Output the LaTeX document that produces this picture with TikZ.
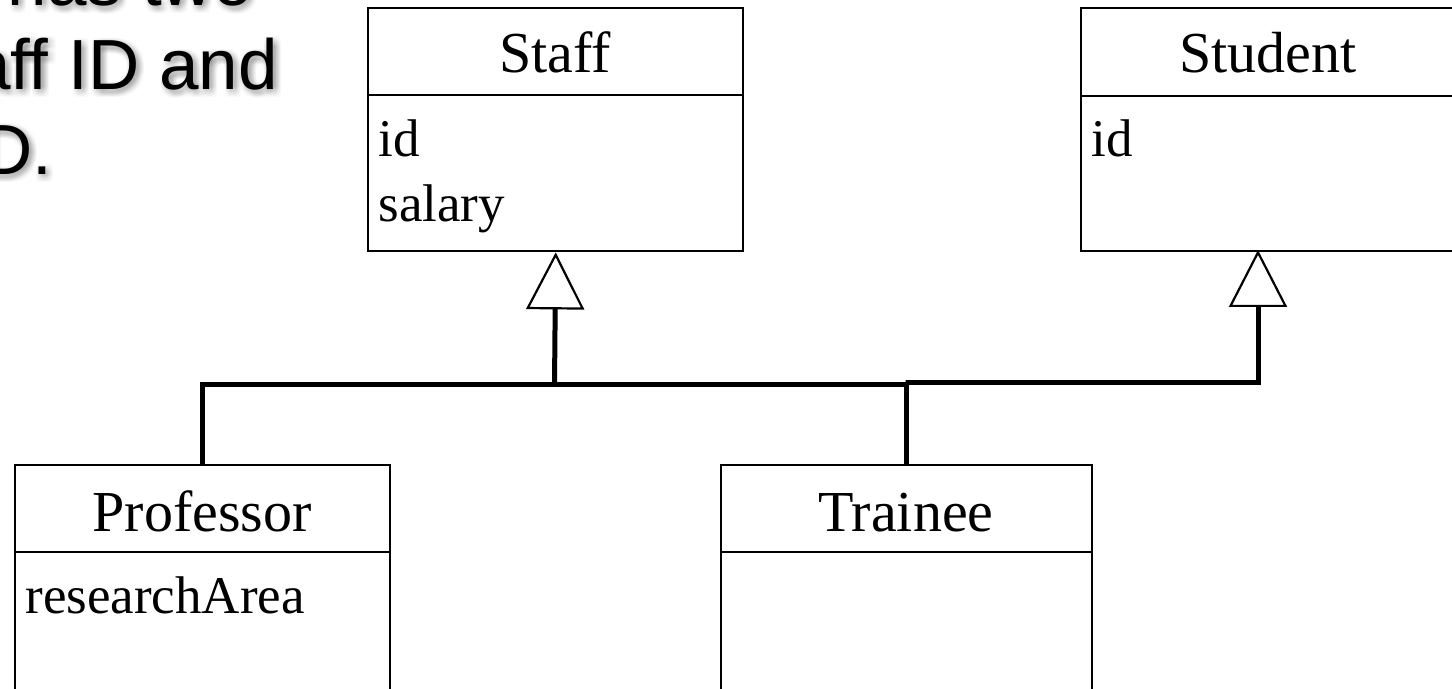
\documentclass[tikz,border=0pt]{standalone}
\usepackage{fontspec}
\setmainfont{Liberation Serif}
\newfontfamily\slidefont[Ligatures=NoCommon]{Liberation Sans}
\usetikzlibrary{arrows.meta}

\tikzset{
  umlbox/.style={draw, line width=1.2pt, anchor=north west, inner sep=0pt, fill=white},
  divider/.style={line width=1.2pt},
  hdr/.style={anchor=base, inner sep=0pt, font=\fontsize{29}{34}\selectfont},
  attr/.style={anchor=base west, inner sep=0pt, font=\fontsize{26.5}{31}\selectfont},
  conn/.style={line width=2.5pt},
  gen/.style={-{Triangle[open, length=28.5pt, width=29pt, line width=1.1pt]}},
  slide/.style={anchor=base east, inner sep=0pt, font=\slidefont\fontsize{35.5}{42}\selectfont},
}

\begin{document}
\begin{tikzpicture}[x=0.5pt, y=-0.5pt]
  \useasboundingbox (0,0) rectangle (1452,689);
  \clip (0,0) rectangle (1452,689);
  \fill[white] (0,0) rectangle (1452,689);

  % slide text with a soft drop shadow
  \foreach \dx in {-2,...,8}{
    \foreach \dy in {-2,...,8}{
      \begin{scope}[shift={(\dx,\dy)}]
        \node[slide, text=black, opacity=0.005] at (253,6) {has two};
        \node[slide, text=black, opacity=0.005] at (278,90) {Staff ID and};
        \node[slide, text=black, opacity=0.005] at (53,175) {Student ID.};
      \end{scope}
    }
  }
  \node[slide] (l1) at (253,6) {has two};
  \node[slide] (l2) at (278,90) {Staff ID and};
  \node[slide] (l3) at (53,175) {Student ID.};

  % class boxes
  \node[umlbox, minimum width=187.5pt, minimum height=121.5pt] (staff) at (367,7) {};
  \node[umlbox, minimum width=188pt, minimum height=121.5pt] (student) at (1080,7) {};
  \node[umlbox, minimum width=187.5pt, minimum height=130pt] (prof) at (14,464) {};
  \node[umlbox, minimum width=185.5pt, minimum height=130pt] (trainee) at (720,464) {};

  % name compartments
  \foreach \b/\h in {staff/44pt, student/44.5pt, prof/44pt, trainee/44pt}{
    \draw[divider] ([yshift=-\h]\b.north west) -- ([yshift=-\h]\b.north east);
  }

  % class names
  \node[hdr] (staffname) at (555,73) {Staff};
  \node[hdr] (studentname) at (1268,73) {Student};
  \node[hdr] (profname) at (202,532) {Professor};
  \node[hdr] (traineename) at (906,532) {Trainee};

  % attributes
  \node[attr] (staffid) at (378,157) {id};
  \node[attr] (staffsal) at (378,222) {salary};
  \node[attr] (studentid) at (1091,157) {id};
  \node[attr] (profarea) at (25,613) {researchArea};

  % generalization connectors
  \coordinate (sj) at (554.5,385);
  \coordinate (tj) at (905.5,382.5);
  \coordinate (stu) at (1258,250);
  \draw[conn] (prof.north) |- (sj);
  \draw[conn] (trainee.north) |- (sj);
  \draw[conn, gen] (sj) -- (staff.south);
  \draw[conn, gen] (trainee.north) |- (tj) -| (stu);
\end{tikzpicture}
\end{document}
